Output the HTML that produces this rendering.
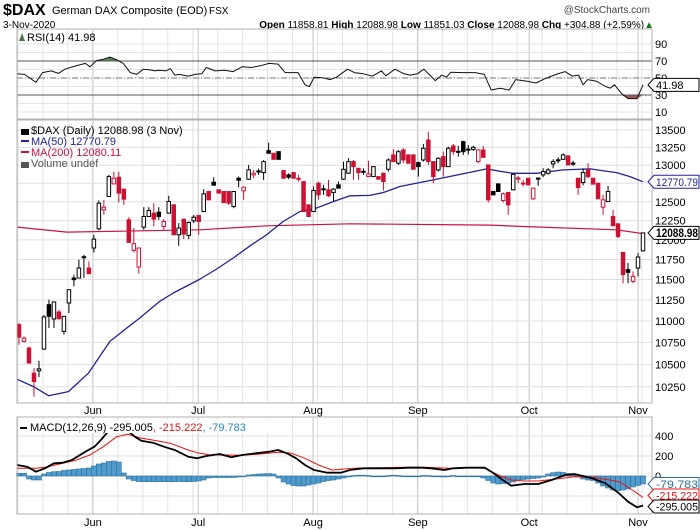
<!DOCTYPE html>
<html><head><meta charset="utf-8"><style>
html,body{margin:0;padding:0;background:#fff;}
#wrap{position:relative;width:700px;height:530px;overflow:hidden;font-family:"Liberation Sans",sans-serif;}
svg text{font-family:"Liberation Sans",sans-serif;}
</style></head><body>
<div id="wrap">
<svg id="chart" width="700" height="530" viewBox="0 0 700 530" xmlns="http://www.w3.org/2000/svg">
<text x="3" y="15" font-size="16" font-weight="bold" fill="#000">$DAX</text>
<text x="52" y="14" font-size="11" fill="#000">German DAX Composite (EOD)</text>
<text x="209" y="14" font-size="10" fill="#000">FSX</text>
<text x="650" y="13" font-size="10" fill="#444" text-anchor="end">@StockCharts.com</text>
<text x="3" y="28" font-size="10" fill="#000">3-Nov-2020</text>
<text x="654" y="28" font-size="10" fill="#000" text-anchor="end"><tspan font-weight="bold">Open</tspan> 11858.81 <tspan font-weight="bold">High</tspan> 12088.98 <tspan font-weight="bold">Low</tspan> 11851.03 <tspan font-weight="bold">Close</tspan> 12088.98 <tspan font-weight="bold">Chg</tspan> +304.88 (+2.59%)<tspan fill="#1a7a1a">▲</tspan></text>
<g id="rsiG"></g>
<g id="priceG"></g>
<g id="macdG"></g>
</svg>
</div>
<script>
// ---------- data ----------
const opens=[10957,10761,10684,10401,10427,10673,11194,11023,11106,10878,11214,11518,11518,11785,11642,11895,12143,12392,12571,12742,12833,12670,12260,11865,11655,12165,12304,12348,12361,12173,12348,12459,12065,12269,12057,12247,12317,12370,12638,12765,12661,12638,12638,12437,12819,12647,12806,12865,12920,12897,13205,13167,13190,12925,12865,12897,12819,12774,12459,12370,12751,12675,12661,12625,12729,12806,12888,
13050,12957,12915,12842,12842,12842,12888,12943,13144,13027,13214,13144,13144,13036,13073,13356,13050,12934,13120,12980,13271,13195,13332,13226,13222,13050,13214,13004,12638,12742,12517,12625,12661,12822,12753,12819,12540,12821,12865,12888,13018,13075,13082,13130,13029,12819,12760,12934,12819,12751,12428,12503,12304,12208,11839,11622,11477,11642,11858.81];
const highs=[10976,10819,10704,10457,10540,11070,11254,11234,11134,11060,11375,11560,11747,11810,11726,12065,12517,12526,12865,12910,12910,12670,12295,12152,11895,12428,12428,12481,12428,12269,12580,12459,12217,12269,12238,12326,12326,12670,12648,12833,12661,12638,12638,12638,12842,12706,13004,12934,12952,13073,13318,13167,13190,12934,12888,12897,12865,12774,12459,12706,12774,12729,12797,12683,12774,13050,13100,
13073,12957,12957,13063,12980,12842,12897,13096,13223,13214,13238,13144,13144,13050,13299,13476,13050,13110,13190,13261,13299,13271,13346,13285,13270,13223,13271,13004,12638,12742,12625,12625,12888,12852,12797,12819,12684,12833,12957,12960,13082,13110,13167,13130,13063,12819,12957,13027,12819,12751,12594,12715,12392,12208,11839,11705,11600,11831,12088.98];
const lows=[10723,10750,10514,10142,10357,10665,10917,10917,11015,10839,11094,11416,11518,11518,11572,11839,12121,12326,12571,12742,12490,12459,11967,11839,11572,12130,12304,12173,12260,12130,12348,12065,11924,12009,12009,12217,12065,12370,12526,12724,12616,12490,12459,12414,12697,12526,12797,12819,12865,12797,13167,13082,13082,12819,12806,12819,12774,12370,12304,12370,12526,12593,12562,12503,12683,12797,12880,
12797,12797,12865,12842,12842,12806,12650,12911,13050,13004,13027,13027,12943,12842,13050,13004,12751,12911,12842,12980,13144,13120,13144,13150,13200,13027,13110,12490,12593,12638,12490,12326,12652,12751,12706,12729,12526,12715,12833,12870,12957,13027,13082,13004,12990,12593,12724,12819,12738,12540,12326,12503,12182,12022,11453,11453,11453,11539,11851.03];
const closes=[10811,10800,10514,10308,10449,11047,11055,11226,11027,11055,11375,11498,11642,11772,11572,12009,12481,12427,12842,12819,12616,12535,11967,11950,11895,12304,12383,12269,12304,12238,12503,12065,12152,12074,12226,12295,12238,12607,12526,12724,12616,12490,12481,12638,12792,12697,12934,12888,12906,13050,13167,13082,13082,12819,12833,12819,12815,12370,12304,12652,12593,12670,12580,12670,12683,12943,13050,
12980,12897,12911,12879,12980,12806,12774,13073,13050,13190,13073,13027,12943,12980,13238,13050,12842,13096,12980,13238,13190,13190,13190,13222,13252,13214,13110,12526,12593,12638,12607,12459,12874,12819,12751,12729,12684,12819,12911,12934,13050,13073,13144,13004,13027,12692,12897,12842,12738,12540,12526,12638,12182,12044,11560,11589,11539,11781,12088.98];

const ma50Idx=[-0.4,2.9,5.9,9.9,13.9,18.2,21.6,24.2,28.2,30.9,36.3,39.6,42.9,46.9,49.6,52.9,56.3,59,63,66.3,70.3,73,76.3,83,93.7,96.4,99,103.7,109,114.4,119.7,122.4,125];
const ma50Vals=[10334,10252,10153,10197,10401,10761,10917,11035,11234,11335,11506,11630,11768,11950,12065,12238,12370,12401,12503,12580,12585,12625,12706,12797,12948,12915,12888,12888,12934,12948,12897,12842,12771];
const ma200Idx=[-0.4,9.6,36.3,49.6,66.3,94.4,101,119.7,125];
const ma200Vals=[12165,12100,12130,12182,12208,12191,12173,12130,12080];

const rsiIdx=[-0.4,1.1,3.4,4.7,6.5,7.9,9.2,11.0,13.3,14.2,15.5,16.9,18.2,19.6,20.9,22.3,23.6,24.9,26.3,27.2,28.1,29.4,30.3,31.2,32.1,33.9,35.3,36.6,37.5,39.3,41.1,42.9,44.7,46.5,48.3,50.1,51.9,53.3,55.9,57.3,58.2,59.1,60.9,62.3,63.6,65.8,67.2,69.0,70.8,72.6,73.5,75.3,77.1,78.4,79.8,81.1,82.5,83.4,84.7,85.6,86.5,88.8,91.4,93.2,94.6,96.4,98.2,99.5,101.8,103.6,105.4,107.6,109.4,110.8,112.1,113.0,113.9,115.7,117.5,118.4,119.3,120.7,122.0,123.8,125];
const rsiVals=[55,54.2,44.9,56.3,58.3,55.4,60.3,63.6,67.2,63.2,70.5,72.1,74.6,71.3,67.2,56.3,54.2,60.3,59.5,58.3,59.1,58.3,61.1,53.4,54.2,52.2,54.2,55.0,62.4,58.3,59.1,57.5,63.2,62.4,64.4,67.2,66.4,56.3,56.3,42.0,40.0,51.0,50.2,48.1,51.0,60.3,56.3,55.0,52.2,58.3,52.6,60.3,55.0,53.4,55.0,60.3,52.2,46.9,53.4,51.0,56.7,56.3,56.3,54.2,35.9,38.0,35.9,48.1,46.1,44.1,49.3,54.2,57.5,52.2,53.4,42.0,48.1,46.1,40.0,38.0,42.0,31.9,25.8,25.8,41.98];

const macdIdx=[-0.4,1.6,3.4,5.2,7.0,8.8,10.6,13.3,15.1,16.4,17.8,19.6,21.8,23.2,24.5,26.8,29.4,31.2,33.9,35.7,37.5,40.2,42.5,44.7,47.4,50.1,51.9,53.7,55.5,57.3,59.1,61.8,64.5,66.3,69.0,72.6,75.3,78.0,80.7,82.5,85.2,87.0,89.7,93.3,95.1,96.9,98.6,101.3,104.0,106.7,109.4,111.2,113.0,114.8,117.5,120.2,122.0,123.8,125];
const macdVals=[110,93,43,77,127,133,160,243,293,360,443,480,453,393,353,333,287,260,193,177,200,220,187,210,227,243,260,227,177,110,60,33,33,60,77,77,77,83,83,77,60,77,83,83,27,-40,-97,-80,-80,-40,10,20,0,-23,-73,-173,-257,-313,-295.005];
const sigIdx=[-0.4,3.4,5.2,8.8,11.5,14.2,16.9,19.6,21.8,24.1,27.6,30.3,33.9,35.7,38.4,41.1,44.7,48.3,51.9,54.6,57.3,60.0,62.7,64.5,68.1,72.6,77.1,81.6,86.1,90.6,93.3,96.0,98.6,101.3,104.0,107.6,111.2,114.8,117.5,120.2,122.9,125];
const sigVals=[77,77,87,127,160,210,293,393,417,383,353,327,260,233,210,210,207,220,237,227,177,110,60,67,80,83,87,87,77,83,77,10,-40,-50,-50,-30,-7,-13,-33,-57,-140,-215.222];
const histVals=[27,27,-30,-40,-40,20,35,43,45,55,60,65,70,75,80,100,120,130,145,150,140,30,
-30,-45,-55,-57,-57,-57,-57,-57,-57,-57,-55,-57,-57,-55,-50,
-40,-20,-15,-15,-15,-15,-15,-10,-5,
10,15,20,22,25,20,
-20,-60,-80,-95,-100,-100,-90,-80,-70,
-55,-45,-40,-30,-20,-10,
5,8,8,5,0,-5,-5,5,8,5,0,-5,-8,-5,5,5,0,-5,-10,-5,5,0,0,-5,-5,0,
-20,-45,-70,-80,-75,-70,-60,
-40,-35,-30,-25,-20,-10,
20,33,40,35,25,10,
-10,-30,-40,-45,
-70,-100,-120,-140,-147,-140,-130,
-110,-95,-79.783];

const priceTicks=[13500,13250,13000,12750,12500,12250,12000,11750,11500,11250,11000,10750,10500,10250];
const rsiTicks=[90,70,50,30,10];
const macdTicks=[400,200,0];
const monthNames=["Jun","Jul","Aug","Sep","Oct","Nov"];
const monthIdx=[14.8,35.9,58.9,79.9,102.2,124.0];

// ---------- scales ----------
const L=17,R=652;
const xOf=i=>19+i*4.992;
const yP=p=>130+932.4*Math.log(13500/p);
const yR=v=>44+(90-v)*0.85;
const yM=v=>476-v*0.1;
const NS='http://www.w3.org/2000/svg';
function el(tag,attrs,parent,txt){const e=document.createElementNS(NS,tag);for(const k in attrs)e.setAttribute(k,attrs[k]);if(txt!==undefined)e.textContent=txt;parent.appendChild(e);return e;}
const rsiG=document.getElementById('rsiG'),priceG=document.getElementById('priceG'),macdG=document.getElementById('macdG');

function panelGrid(g,top,bot,name){
  const bg=el('rect',{x:L,y:top,width:R-L,height:bot-top,fill:'#fff',stroke:'none'},g);
  
  
  for(let i=-0.2;i<126;i+=5){
    const ln=el('line',{x1:xOf(i),x2:xOf(i),y1:top,y2:bot,stroke:'#e4e4e4','stroke-width':1},g);
    
    
  }
  monthIdx.forEach(m=>{
    const ln=el('line',{x1:xOf(m),x2:xOf(m),y1:top,y2:bot,stroke:'#c4c4c4','stroke-width':1},g);
    
    
  });
}
function panelBorder(g,top,bot,name){
  const b=el('rect',{x:L,y:top,width:R-L,height:bot-top,fill:'none',stroke:'#b0b0b0','stroke-width':1},g);
  
  
}
function polyline(g,idx,vals,ys,color,w,name){
  const pts=idx.map((i,k)=>xOf(i).toFixed(1)+','+ys(vals[k]).toFixed(1)).join(' ');
  const p=el('polyline',{points:pts,fill:'none',stroke:color,'stroke-width':w,'stroke-linejoin':'round'},g);
  
  
  return p;
}
function tag(g,y,text,color,bold,name){
  const x=R-4;
  const p=el('polygon',{points:`${x},${y} ${x+6},${y-6.5} ${x+51},${y-6.5} ${x+51},${y+6.5} ${x+6},${y+6.5}`,fill:'#fff',stroke:color,'stroke-width':1},g);
  
  
  const attrs={x:x+8,y:y+4,'font-size':bold?11.5:11,fill:bold?'#000':color,'font-weight':bold?'bold':'normal'};
  if(text.length>=7){attrs.textLength=42;attrs.lengthAdjust='spacingAndGlyphs';}
  const t=el('text',attrs,g,text);
  
  
}

// ---------- RSI ----------
(function(){
  const top=29,bot=119;
  panelGrid(rsiG,top,bot,'rsi');
  for(let v=10;v<=90;v+=10){
    const ln=el('line',{x1:L,x2:R,y1:yR(v),y2:yR(v),stroke:'#e4e4e4'},rsiG);
    
    
  }
  const over=el('polygon',{points:rsiIdx.map((i,k)=>xOf(i)+','+Math.min(yR(rsiVals[k]),yR(70))).join(' ')+' '+xOf(125)+','+yR(70)+' '+xOf(-0.4)+','+yR(70),fill:'#5a8a5a'},rsiG);
  
  
  const under=el('polygon',{points:rsiIdx.map((i,k)=>xOf(i)+','+Math.max(yR(rsiVals[k]),yR(30))).join(' ')+' '+xOf(125)+','+yR(30)+' '+xOf(-0.4)+','+yR(30),fill:'#9a5a5a'},rsiG);
  
  
  [70,30].forEach(v=>{
    const ln=el('line',{x1:L,x2:R,y1:yR(v),y2:yR(v),stroke:'#555','stroke-width':1},rsiG);
    
    
  });
  const mid=el('line',{x1:L,x2:R,y1:yR(50),y2:yR(50),stroke:'#777','stroke-width':1,'stroke-dasharray':'6,2,1,2'},rsiG);
  
  
  polyline(rsiG,rsiIdx,rsiVals,yR,'#111',1,'rsi-line');
  panelBorder(rsiG,top,bot,'rsi');
  rsiTicks.forEach(v=>{
    const t=el('text',{x:655,y:yR(v)+4,'font-size':11,fill:'#000'},rsiG,String(v));
    
    
  });
  const lg=el('text',{x:27,y:41,'font-size':11,fill:'#000'},rsiG,'RSI(14) 41.98');
  
  
  const ic=el('path',{d:'M19,41 L22,33 L25,41 Z',fill:'#4a7a4a'},rsiG);
  
  
  tag(rsiG,yR(rsiVals[rsiVals.length-1]),'41.98','#000',false,'rsi-value-tag');
})();

// ---------- Price ----------
(function(){
  const top=120,bot=403;
  panelGrid(priceG,top,bot,'price');
  priceTicks.forEach(p=>{
    const ln=el('line',{x1:L,x2:R,y1:yP(p),y2:yP(p),stroke:'#e0e0e0'},priceG);
    
    
  });
  polyline(priceG,ma200Idx,ma200Vals,yP,'#cc1144',1.2,'ma200-line');
  polyline(priceG,ma50Idx,ma50Vals,yP,'#22229a',1.3,'ma50-line');
  for(let i=0;i<closes.length;i++){
    const o=opens[i],c=closes[i],h=highs[i],lo=lows[i];
    const prev=i>0?closes[i-1]:o+1;
    const col=c<prev?'#cc1133':'#000';
    const x=xOf(i);
    const w=el('line',{x1:x,x2:x,y1:yP(h),y2:yP(lo),stroke:col,'stroke-width':1},priceG);
    
    
    const yt=yP(Math.max(o,c)),yb=yP(Math.min(o,c));
    const b=el('rect',{x:x-1.75,y:yt,width:3.5,height:Math.max(1,yb-yt),fill:c>o?'#fff':col,stroke:col,'stroke-width':1},priceG);
    
    
  }
  panelBorder(priceG,top,bot,'price');
  priceTicks.forEach(p=>{
    const t=el('text',{x:655,y:yP(p)+4,'font-size':11,fill:'#000'},priceG,String(p));
    
    
  });
  const lbl=[['$DAX (Daily) 12088.98 (3 Nov)','#000',134],['MA(50) 12770.79','#22229a',145],['MA(200) 12080.11','#cc1144',156],['Volume undef','#555',167]];
  lbl.forEach(([s,c,y],k)=>{
    const t=el('text',{x:31,y:y,'font-size':11,fill:c},priceG,s);
    
    
    const m=el('rect',{x:21,y:y-5,width:8,height:k===0||k===3?6:2,fill:c},priceG);
    
    
  });
  tag(priceG,yP(ma50Vals[ma50Vals.length-1]),'12770.79','#22229a',false,'ma50-value-tag');
  tag(priceG,yP(closes[closes.length-1]),'12088.98','#000',true,'close-value-tag');
  monthNames.forEach((m,k)=>{
    const t=el('text',{x:xOf(monthIdx[k]),y:414,'font-size':11,'text-anchor':'middle',fill:'#000'},priceG,m);
    
    
  });
})();

// ---------- MACD ----------
(function(){
  const top=417,bot=514;
  panelGrid(macdG,top,bot,'macd');
  for(let v=-200;v<=400;v+=200){
    const ln=el('line',{x1:L,x2:R,y1:yM(v),y2:yM(v),stroke:'#e0e0e0'},macdG);
    
    
  }
  histVals.forEach((v,i)=>{
    const y0=yM(0),y1=yM(v);
    const b=el('rect',{x:xOf(i)-2.5,y:Math.min(y0,y1),width:5,height:Math.max(0.8,Math.abs(y1-y0)),fill:'#4f9ccc',stroke:'#2b6f9c','stroke-width':0.6},macdG);
    
    
  });
  polyline(macdG,sigIdx,sigVals,yM,'#ee1111',1,'macd-signal-line');
  polyline(macdG,macdIdx,macdVals,yM,'#000',1.8,'macd-line');
  panelBorder(macdG,top,bot,'macd');
  macdTicks.forEach(v=>{
    const t=el('text',{x:655,y:yM(v)+4,'font-size':11,fill:'#000'},macdG,String(v));
    
    
  });
  const bgl=el('rect',{x:19,y:420,width:265,height:13,fill:'#fff'},macdG);
  
  
  const sw=el('rect',{x:20,y:427,width:7,height:2,fill:'#000'},macdG);
  
  
  const lg=el('text',{x:30,y:431,'font-size':11,fill:'#000'},macdG);
  
  
  lg.innerHTML='MACD(12,26,9) -295.005<tspan fill="#ee1111">, -215.222</tspan><tspan fill="#2b8ac0">, -79.783</tspan>';
  tag(macdG,yM(-79.783),'-79.783','#2b6f9c',false,'histogram-value-tag');
  tag(macdG,yM(-215.222)-2,'-215.222','#ee1111',false,'signal-value-tag');
  tag(macdG,yM(-295.005)+1,'-295.005','#000',false,'macd-value-tag');
  monthNames.forEach((m,k)=>{
    const t=el('text',{x:xOf(monthIdx[k]),y:526,'font-size':11,'text-anchor':'middle',fill:'#000'},macdG,m);
    
    
  });
})();
</script>
</body></html>
